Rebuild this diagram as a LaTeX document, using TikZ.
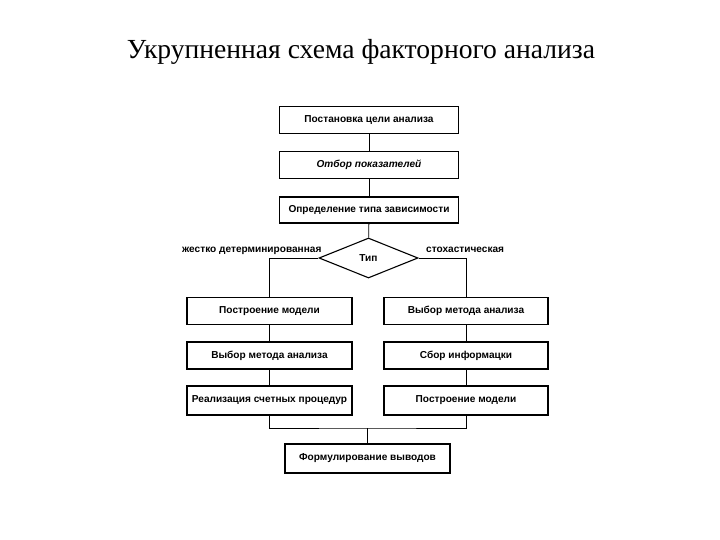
\documentclass[tikz,border=0pt]{standalone}
\usepackage{fontspec}
\setmainfont{Liberation Serif}
\newfontfamily\boxfont{Liberation Sans}
\usetikzlibrary{shapes.geometric}
\begin{document}
\begin{tikzpicture}[x=1pt,y=-1pt,
  blk/.style={draw,line width=1.1pt,minimum height=27pt,inner sep=0pt,font=\boxfont\bfseries\fontsize{10.1}{12}\selectfont},
  lnk/.style={line width=0.8pt},
  lbl/.style={font=\boxfont\bfseries\fontsize{10.1}{12}\selectfont,inner sep=0pt}]
\useasboundingbox (0,0) rectangle (720,540);
\node[font=\fontsize{27.6}{32}\selectfont] (title) at (361,52) {Укрупненная схема факторного анализа};
\node[blk,minimum width=179pt] (b1) at (369,120) {Постановка цели анализа};
\node[blk,minimum width=179pt,font=\boxfont\bfseries\itshape\fontsize{10.1}{12}\selectfont] (b2) at (369,165) {Отбор показателей};
\node[blk,minimum width=179pt,minimum height=26pt] (b3) at (369,210) {Определение типа зависимости};
\node[draw,diamond,line width=1.1pt,aspect=2.5,minimum width=99pt,minimum height=40pt,inner sep=0pt,font=\boxfont\bfseries\fontsize{10.1}{12}\selectfont] (t) at (368.5,258) {Тип};
\node[lbl,anchor=base west] (lj) at (182,252) {жестко детерминированная};
\node[lbl,anchor=base west] (ls) at (426,252) {стохастическая};
\node[blk,minimum width=165pt] (l1) at (269.5,311) {Построение модели};
\node[blk,minimum width=165pt] (l2) at (269.5,355.5) {Выбор метода анализа};
\node[blk,minimum width=165pt,minimum height=29pt] (l3) at (269.5,400.5) {Реализация счетных процедур};
\node[blk,minimum width=164pt] (r1) at (466,311) {Выбор метода анализа};
\node[blk,minimum width=164pt] (r2) at (466,355.5) {Сбор информацки};
\node[blk,minimum width=164pt,minimum height=29pt] (r3) at (466,400.5) {Построение модели};
\node[blk,minimum width=165pt,minimum height=29pt] (f) at (367.5,458.5) {Формулирование выводов};
\coordinate (jm) at (367.5,428);
\draw[lnk] (b1) -- (b2);
\draw[lnk] (b2) -- (b3);
\draw[lnk] (b3) -- (t);
\draw[lnk] (t.west) -| (l1.north);
\draw[lnk] (t.east) -| (r1.north);
\draw[lnk] (l1) -- (l2);
\draw[lnk] (l2) -- (l3);
\draw[lnk] (r1) -- (r2);
\draw[lnk] (r2) -- (r3);
\draw[lnk] (l3.south) |- (jm) -| (r3.south);
\draw[lnk] (jm) -- (f);
\end{tikzpicture}
\end{document}
